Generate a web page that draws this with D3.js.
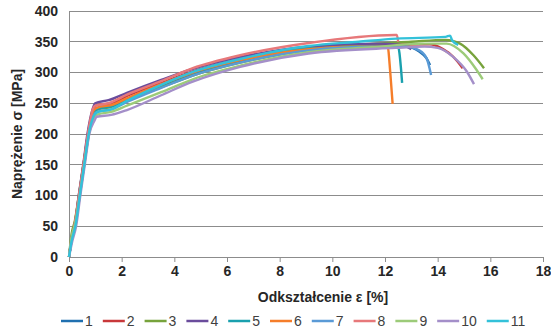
<!DOCTYPE html>
<html>
<head>
<meta charset="utf-8">
<script src="https://cdn.jsdelivr.net/npm/d3@7"></script>
<style>
  body { margin: 0; background: #fff; }
  text { font-family: "Liberation Sans", Arial, sans-serif; }
</style>
</head>
<body>
<script>
// strain [%], stress [MPa]
var names = ["1","2","3","4","5","6","7","8","9","10","11"];
var colors = ["#2070b0","#c8383a","#77a33c","#6a4c9c","#1aa0ae","#f57d2a",
              "#5a9ad6","#e7787a","#9ccb79","#a48fc9","#33c1d9"];

var s1 = [[0,0],[0.1,28],[0.25,55],[0.4,100],[0.57,150],[0.75,200],[0.95,238],[1.1,243],[1.6,246],[2.2,256],[3.5,278],[4.7,298],[6.5,318],[9.1,337],[11,342],[12.8,342],[13.3,334],[13.58,323],[13.71,312]];
var s2 = [[0,0],[0.1,30],[0.22,55],[0.38,100],[0.55,150],[0.72,200],[0.92,240],[1.05,247],[1.6,250],[2.2,262],[3.5,283],[4.7,302],[6.5,322],[9.1,340],[11.5,345],[13.7,346],[14.2,338],[14.58,326],[14.95,307]];
var s3 = [[0,0],[0.1,38],[0.22,58],[0.38,102],[0.55,150],[0.73,200],[0.95,236],[1.1,240],[1.6,244],[2.2,256],[3.5,276],[4.7,295],[6.5,316],[9.1,337],[11,345],[13,350],[14.3,353],[14.85,347],[15.36,328],[15.76,307]];
var s4 = [[0,0],[0.1,30],[0.22,52],[0.37,100],[0.54,150],[0.7,200],[0.88,238],[0.99,250],[1.5,255],[2.2,267],[3.5,288],[4.7,306],[6.5,325],[9.1,342],[11.7,347],[12.6,345],[13,338]];
var s5 = [[0,0],[0.1,28],[0.24,55],[0.4,100],[0.57,150],[0.74,200],[0.94,236],[1.1,241],[1.6,245],[2.2,257],[3.5,280],[4.7,299],[6.5,320],[9.1,339],[11.5,342],[12.5,341],[12.6,310],[12.65,283]];
var s6 = [[0,0],[0.1,28],[0.23,54],[0.39,100],[0.56,150],[0.73,200],[0.93,238],[1.08,243],[1.6,247],[2.2,258],[3.5,281],[4.7,300],[6.5,320],[9.1,338],[11,342],[12.1,342],[12.2,300],[12.29,249]];
var s7 = [[0,0],[0.1,27],[0.24,53],[0.4,100],[0.57,150],[0.74,200],[0.95,232],[1.08,236],[1.6,240],[2.2,252],[3.5,275],[4.7,295],[6.5,316],[9.1,336],[11.5,342],[12.82,342],[13.3,336],[13.58,323],[13.75,296]];
var s8 = [[0,0],[0.1,30],[0.22,54],[0.38,100],[0.55,150],[0.72,200],[0.9,240],[1,246],[1.5,250],[2.2,264],[3.5,286],[4.7,307],[6.5,328],[9.1,348],[12.38,361],[12.45,361],[12.5,350]];
var s9 = [[0,0],[0.1,32],[0.24,55],[0.41,100],[0.58,150],[0.76,200],[0.97,228],[1.1,232],[1.6,236],[2.2,246],[3.5,268],[4.7,289],[6.5,311],[9.1,333],[11.5,341],[13.5,347],[14.34,347],[14.98,331],[15.48,304],[15.71,289]];
var s10 = [[0,0],[0.12,25],[0.27,50],[0.43,100],[0.6,150],[0.77,200],[0.97,222],[1.05,228],[1.6,231],[2.2,239],[3.5,263],[4.7,285],[6.5,309],[9.1,331],[12.4,340],[13.5,342],[14,340],[14.6,325],[15.1,302],[15.38,281]];
var s11 = [[0,0],[0.1,26],[0.25,52],[0.41,100],[0.58,150],[0.75,200],[0.95,230],[1.1,236],[1.6,240],[2.2,254],[3.5,280],[4.7,301],[6.5,322],[9.1,343],[11,350],[12.44,355],[14.3,358],[14.47,360],[14.55,352],[14.78,345]];
var allSeries = [s1,s2,s3,s4,s5,s6,s7,s8,s9,s10,s11];

var xTicks = [0,2,4,6,8,10,12,14,16,18];
var yTicks = [0,50,100,150,200,250,300,350,400];

var W = 551, H = 332;
var svg = d3.select("body").append("svg").attr("width", W).attr("height", H);

var x = d3.scaleLinear().domain([0,18]).range([69,543]);
var y = d3.scaleLinear().domain([0,400]).range([257,11]);

// grid
svg.append("g").selectAll("line").data(yTicks.slice(1)).enter().append("line")
  .attr("x1", x(0)).attr("x2", x(18))
  .attr("y1", function(d){ return y(d); }).attr("y2", function(d){ return y(d); })
  .attr("stroke", "#8c8c8c").attr("stroke-width", 1).attr("shape-rendering","crispEdges");

// axes
var xAxis = svg.append("g").attr("transform", "translate(0," + y(0) + ")")
  .call(d3.axisBottom(x).tickValues(xTicks).tickSize(5).tickPadding(4));
var yAxis = svg.append("g").attr("transform", "translate(" + x(0) + ",0)")
  .call(d3.axisLeft(y).tickValues(yTicks).tickSize(0).tickPadding(11));
[xAxis, yAxis].forEach(function(a){
  a.select(".domain").attr("stroke", "#8c8c8c");
  a.selectAll(".tick line").attr("stroke", "#8c8c8c");
  a.selectAll("text").attr("font-size", 14).attr("font-weight", "bold")
    .attr("fill", "#262626").attr("font-family", "Liberation Sans, Arial, sans-serif");
});

// curves
var line = d3.line()
  .x(function(d){ return x(d[0]); })
  .y(function(d){ return y(d[1]); })
  .curve(d3.curveMonotoneX);

svg.append("g").selectAll("path").data(allSeries).enter().append("path")
  .attr("d", line)
  .attr("fill", "none")
  .attr("stroke", function(d, i){ return colors[i]; })
  .attr("stroke-width", 2.4)
  .attr("stroke-linejoin", "round");

// titles
svg.append("text").attr("x", 323).attr("y", 302).attr("text-anchor", "middle")
  .attr("font-size", 14).attr("font-weight", "bold").attr("fill", "#262626")
  .text("Odkształcenie ε [%]");
svg.append("text").attr("transform", "translate(22,134) rotate(-90)")
  .attr("text-anchor", "middle")
  .attr("font-size", 14).attr("font-weight", "bold").attr("fill", "#262626")
  .text("Naprężenie σ [MPa]");

// legend
var lg = svg.append("g");
var lx = 61, ly = 321;
names.forEach(function(n, i){
  lg.append("line").attr("x1", lx).attr("x2", lx + 22).attr("y1", ly).attr("y2", ly)
    .attr("stroke", colors[i]).attr("stroke-width", 2.5);
  var t = lg.append("text").attr("x", lx + 24).attr("y", ly + 5)
    .attr("font-size", 14).attr("fill", "#404040").text(n);
  lx += 24 + t.node().getComputedTextLength() + 10;
});
</script>
</body>
</html>
